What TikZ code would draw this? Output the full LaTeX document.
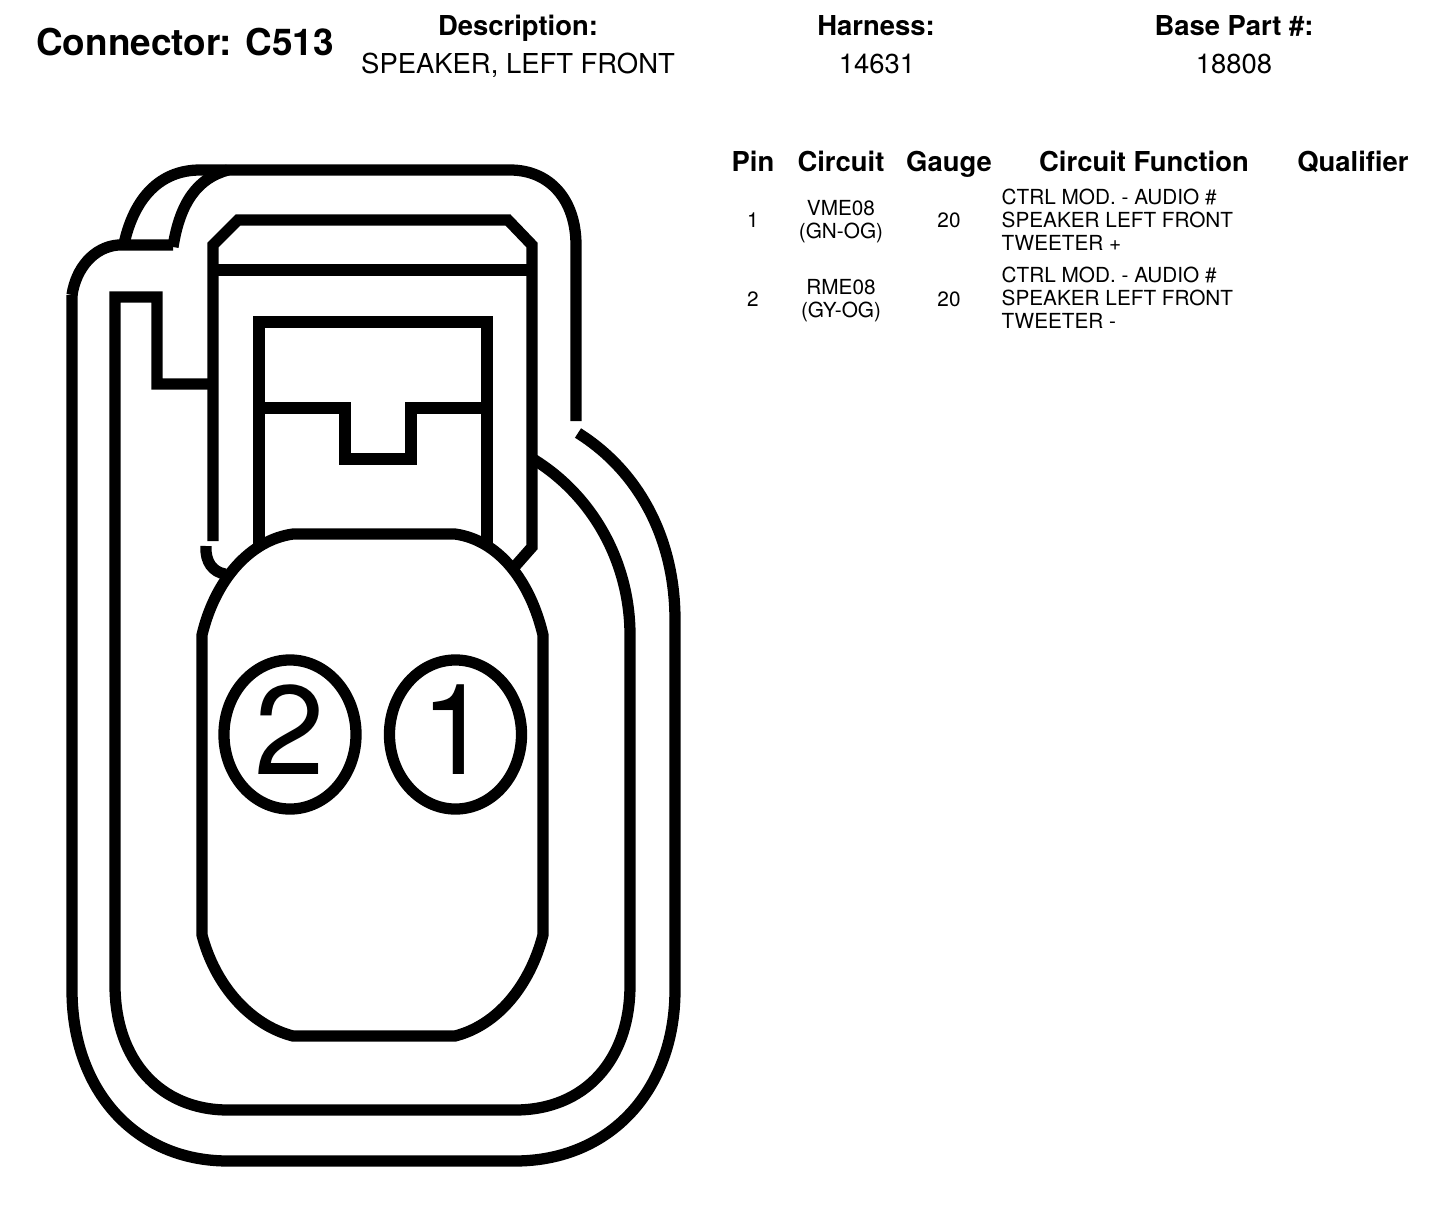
\documentclass[tikz,border=0pt]{standalone}
\usepackage{fontspec}
\setmainfont{TeX Gyre Heros}
\usetikzlibrary{shapes.geometric}
\tikzset{
  outline/.style={line width=3.2pt,line join=miter},
  titletext/.style={anchor=base,inner sep=0pt,font=\fontsize{10.5}{12}\selectfont\bfseries},
  headtext/.style={anchor=base,inner sep=0pt,font=\fontsize{7.8}{9}\selectfont\bfseries},
  valuetext/.style={anchor=base,inner sep=0pt,font=\fontsize{7.8}{9}\selectfont},
  celltext/.style={anchor=base,inner sep=0pt,font=\fontsize{5.9}{7}\selectfont},
  functext/.style={anchor=base west,inner sep=0pt,font=\fontsize{5.9}{7}\selectfont},
  pincircle/.style={draw,ellipse,line width=3.2pt,inner sep=0pt,minimum width=132*0.2845pt,minimum height=149*0.2845pt,font=\fontsize{36}{36}\selectfont}
}
\begin{document}
\begin{tikzpicture}[x=0.01cm,y=-0.01cm]
\useasboundingbox (0,0) rectangle (1456,1208);
% shell
\draw[outline] (72,295) .. controls (76,268) and (94,247) .. (118,245) -- (173,245);
\draw[outline] (124,244) .. controls (134,198) and (160,170) .. (200,170) -- (510,170)
  .. controls (550,170) and (576,200) .. (576,245) -- (576,421);
\draw[outline] (173,247) .. controls (180,202) and (198,178) .. (228,170);
\draw[outline] (578,433) .. controls (640,472) and (675,540) .. (675,620) -- (675,990)
  .. controls (675,1090) and (610,1161) .. (515,1161) -- (228,1161)
  .. controls (135,1161) and (72,1090) .. (72,990) -- (72,295);
% seal
\draw[outline] (533,459) .. controls (595,497) and (630,565) .. (630,635) -- (630,985)
  .. controls (630,1060) and (585,1110) .. (515,1110) -- (228,1110)
  .. controls (160,1110) and (115,1060) .. (115,985) -- (115,297) -- (157,297) -- (157,384) -- (213,384);
% latch
\draw[outline] (213,541) -- (213,245) -- (238,220) -- (508,220) -- (532,245) -- (532,547) -- (510,572);
\draw[outline] (213,270) -- (532,270);
\draw[outline] (206,546) .. controls (205,562) and (213,572) .. (225,574);
\draw[outline] (259,545) -- (259,322) -- (487,322) -- (487,545);
\draw[outline] (259,408) -- (345,408) -- (345,459) -- (411,459) -- (411,408) -- (487,408);
% body
\draw[outline] (202,635) .. controls (215,580) and (250,540) .. (293,534) -- (455,534)
  .. controls (498,540) and (530,580) .. (543,635) -- (543,935)
  .. controls (530,985) and (498,1025) .. (455,1036) -- (293,1036)
  .. controls (250,1025) and (215,985) .. (202,935) -- cycle;
% pins
\node[pincircle] (pintwo) at (290,734.5) {\raisebox{2.5pt}{2}};
\node[pincircle] (pinone) at (455.5,734.5) {\raisebox{2.5pt}{1}};
% header
\node[titletext] (conn) at (185,55) {Connector: C513};
\node[headtext] (desc) at (518,35) {Description:};
\node[valuetext] (descval) at (518,73) {SPEAKER, LEFT FRONT};
\node[headtext] (harn) at (876,35) {Harness:};
\node[valuetext] (harnval) at (877,73) {14631};
\node[headtext] (base) at (1234,35) {Base Part \#:};
\node[valuetext] (baseval) at (1234,73) {18808};
% table
\foreach \x/\t/\n in {753/Pin/hpin,841/Circuit/hcircuit,949/Gauge/hgauge,1144/Circuit Function/hfunc,1353/Qualifier/hqual}
  \node[headtext] (\n) at (\x,171) {\t};
\node[celltext] (pina) at (753,227) {1};
\node[celltext] (cira) at (841,215) {VME08};
\node[celltext] (cola) at (841,238) {(GN-OG)};
\node[celltext] (gaua) at (949,227) {20};
\node[functext] (funa) at (1001,204) {CTRL MOD. - AUDIO \#};
\node[functext] (funb) at (1001,227) {SPEAKER LEFT FRONT};
\node[functext] (func) at (1001,250) {TWEETER +};
\node[celltext] (pinb) at (753,306) {2};
\node[celltext] (cirb) at (841,294) {RME08};
\node[celltext] (colb) at (841,317) {(GY-OG)};
\node[celltext] (gaub) at (949,306) {20};
\node[functext] (fund) at (1001,282) {CTRL MOD. - AUDIO \#};
\node[functext] (fune) at (1001,305) {SPEAKER LEFT FRONT};
\node[functext] (funf) at (1001,328) {TWEETER -};
\end{tikzpicture}
\end{document}
